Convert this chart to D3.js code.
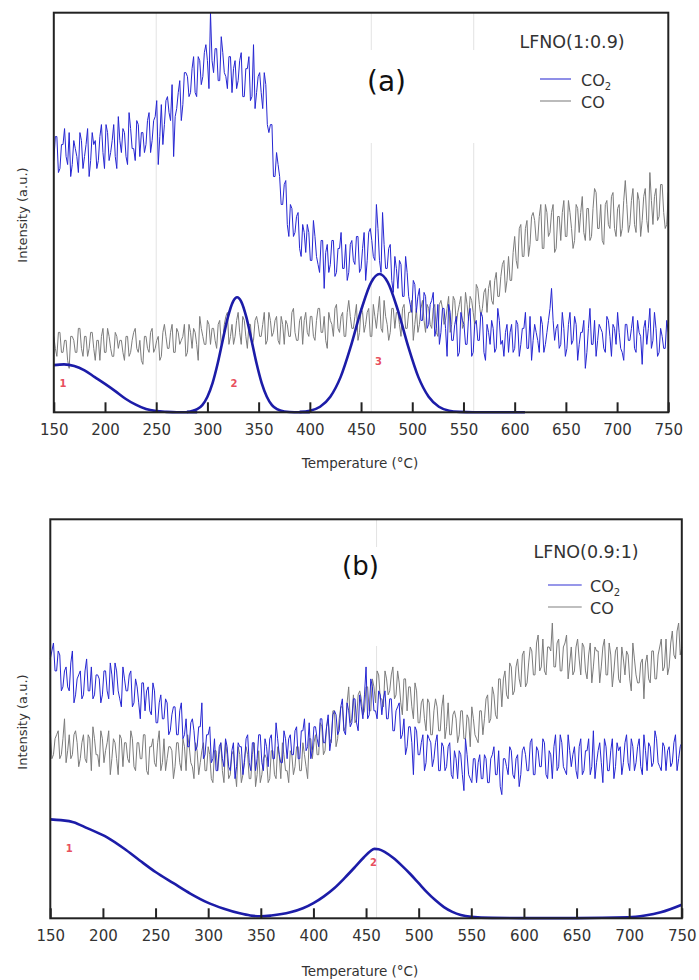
<!DOCTYPE html>
<html>
<head>
<meta charset="utf-8">
<script src="https://cdn.jsdelivr.net/npm/d3@7"></script>
<style>
  body { margin: 0; background: #fff; }
  text { font-family: "DejaVu Sans", sans-serif; }
</style>
</head>
<body>
<svg id="chart" width="699" height="980"></svg>
<script>
// x ticks (°C)
var xTicks = [150, 200, 250, 300, 350, 400, 450, 500, 550, 600, 650, 700, 750];

// panel (a) raw signals: read every 3 °C from 150 (xxA) plus the half-way readings (xxAmid)
var co2A = [63,69,61,67,64,70,62,66,60,68,64,71,63,67,61,69,65,72,63,68,64,74,65,70,62,71,66,73,64,70,67,75,68,74,
  62,77,72,79,73,64,76,83,77,85,79,86,80,89,82,90,
  88,100,85,91,83,90,84,89,80,88,83,90,79,86,78,92,80,85,
  76,82,70,72,59,62,52,57,47,52,44,49,41,47,40,45,38,44,37,43,
  31,42,37,43,35,41,36,42,35,43,37,44,36,45,38,46,39,
  52,38,50,36,41,33,39,31,37,29,35,27,33,25,31,23,29,22,28,19,27,20,26,14,25,18,24,15,23,17,24,14,22,18,25,15,22,17,21,16,23,18,20,15,22,16,
  22,17,21,16,24,18,20,15,22,17,23,31,18,22,17,21,16,25,18,22,17,20,11,21,17,23,18,21,16,24,19,22,17,20,15,22,18,21,16,23,19,21,17,26,18,21,15,19,16,20];
var co2Amid = [69,60,67,71,62,59,68,64,70,61,67,59,70,68,63,72,61,70,65,72,61,68,71,64,75,66,63,72,70,65,
  73,65,73,78,69,67,78,75,82,74,80,73,85,84,80,89,79,88,84,92,
  81,88,91,83,94,85,81,89,86,81,88,79,86,89,79,76,84,80,85,72,
  72,59,65,59,52,58,44,51,45,50,39,45,47,38,48,39,35,43,40,35,
  43,34,41,45,36,33,42,38,44,35,41,33,45,43,38,46,35,42,36,42,
  30,36,38,29,39,29,25,32,29,23,30,21,27,30,21,17,26,21,27,18,
  22,14,25,22,17,26,15,23,18,24,13,20,23,15,26,17,14,22,20,15,
  23,14,21,25,16,13,22,18,24,15,20,26,23,21,16,25,14,22,17,24,
  13,20,23,15,26,17,14,22,20,15,23,14,21,25,16,13,22,18,24,15,
  20,12,23,21,16,25,14,21,16,23];

var coA = [19,14,20,15,18,11,19,15,21,16,19,14,20,16,18,13,21,15,19,14,20,16,18,13,19,15,20,16,18,12,19,15,21,16,
  19,14,22,16,20,15,21,17,19,14,22,16,20,13,21,17,
  23,17,21,16,23,18,24,17,22,19,25,17,23,16,22,18,24,19,
  22,17,25,19,23,18,24,17,22,19,26,18,23,17,25,19,24,18,26,20,
  24,16,23,19,27,20,25,19,28,21,24,18,26,20,25,19,27,
  21,29,20,24,18,26,21,25,19,27,21,25,18,26,22,28,20,26,21,27,19,28,22,26,20,29,22,27,21,30,23,28,22,31,24,30,25,33,27,35,29,37,30,39,33,44,
  36,47,39,48,42,50,43,49,41,52,44,50,40,49,43,53,44,50,41,52,45,54,43,51,44,56,46,52,42,53,46,55,44,52,46,58,45,53,47,55,44,54,48,60,47,56,49,57,46,55];
var coAmid = [16,20,15,18,13,19,18,15,21,14,19,16,20,13,18,19,15,21,16,14,19,18,15,19,14,18,21,15,13,19,
  16,20,15,18,13,20,19,16,22,15,20,18,22,15,20,21,17,24,19,17,
  22,21,18,22,17,22,25,19,17,23,20,24,19,22,17,23,22,19,25,18,
  23,20,24,17,22,23,19,25,20,18,24,23,20,24,19,23,26,20,18,25,
  22,26,21,24,19,25,24,21,27,20,25,22,26,19,24,25,21,28,22,20,
  26,25,22,26,21,25,28,22,20,26,23,27,22,26,20,27,26,23,29,22,
  28,25,29,22,27,29,25,32,27,26,31,31,28,33,29,34,38,33,33,40,
  38,46,39,46,39,49,48,43,52,41,50,45,52,41,49,50,44,53,46,43,
  51,50,45,51,43,51,55,46,43,52,47,54,46,51,44,53,52,47,56,45,
  53,48,56,45,53,54,48,57,50,47];

// panel (b) raw signals, same sampling
var co2B = [65,69,62,66,58,63,57,67,56,61,55,62,57,63,56,61,54,62,57,64,56,62,55,63,57,61,53,60,54,59,52,58,51,57,
  49,56,50,54,47,53,46,52,45,50,43,50,42,48,54,41,
  46,39,45,37,44,38,43,37,44,38,43,36,45,39,44,37,46,39,
  45,38,46,40,45,39,47,40,46,41,48,40,47,42,49,42,48,43,50,44,
  51,45,52,46,53,47,54,48,55,49,56,50,63,51,58,52,57,
  51,57,50,55,47,53,45,50,43,48,36,47,41,46,39,45,38,44,37,44,37,43,36,42,35,41,32,41,35,40,34,41,35,40,34,41,36,42,31,40,36,42,35,41,36,43,
  37,44,36,43,38,45,36,42,35,46,38,44,37,46,38,43,35,45,37,42,36,47,39,44,34,43,37,45,38,42,36,44,39,45,37,43,38,46,37,43,39,45,38,44,37,43,39,46,40,44];
var co2Bmid = [67,62,67,57,62,58,64,54,60,62,56,65,57,55,61,60,56,62,55,61,64,57,53,60,57,62,54,58,50,59,
  57,52,59,49,54,50,55,46,51,53,46,54,46,43,49,47,43,48,40,46,
  48,40,37,43,40,45,38,42,35,44,43,39,46,37,44,40,46,37,43,45,
  40,49,41,39,45,45,41,47,40,47,50,43,40,48,45,50,44,48,42,51,
  51,47,55,46,52,49,55,47,53,56,50,60,52,50,56,55,50,55,47,52,
  54,46,41,48,44,48,41,44,37,46,44,40,46,37,43,38,44,35,40,42,
  36,45,36,34,40,39,35,41,34,40,43,36,33,40,38,43,36,40,33,42,
  41,37,45,36,42,38,44,35,41,43,37,46,38,36,42,41,37,43,36,42,
  45,38,35,42,39,45,37,42,35,44,43,39,46,37,43,39,45,36,42,44,
  38,47,39,37,43,42,38,44,37,43];

var coB = [47,41,46,40,45,39,46,41,47,38,44,40,46,37,45,41,47,39,44,36,45,40,46,38,44,39,45,37,44,40,46,36,43,39,
  44,37,45,40,43,35,44,39,45,37,43,38,44,36,42,37,
  43,35,42,37,44,34,41,36,42,33,41,36,43,35,41,33,42,36,
  41,34,42,36,43,35,41,37,42,36,43,37,44,38,45,40,46,41,48,42,
  50,44,52,45,53,47,54,49,56,50,57,51,58,52,60,54,61,
  55,62,56,61,55,62,54,60,52,58,50,57,49,55,47,54,46,55,47,53,45,54,46,52,44,52,45,51,43,50,45,52,46,55,49,58,51,60,53,62,55,63,57,65,58,67,
  59,68,61,69,62,70,61,68,74,63,70,62,69,60,68,62,70,61,68,60,69,63,67,59,68,61,69,58,67,60,68,61,66,57,65,59,64,55,66,59,67,60,68,62,70,63,72,65,74,68];
var coBmid = [40,45,47,41,50,42,40,46,44,40,46,39,45,48,41,38,45,42,47,40,44,36,45,44,40,47,38,44,40,46,
  37,43,45,38,47,39,37,43,42,38,44,37,43,46,39,35,42,39,44,37,
  41,34,42,41,37,44,35,41,37,43,34,40,41,35,44,36,34,40,40,35,
  42,35,41,44,37,34,41,38,43,37,41,35,45,44,41,49,41,48,45,52,
  43,50,53,48,58,50,49,56,55,52,58,52,58,62,55,53,60,57,63,56,
  59,51,60,58,53,59,49,54,50,55,46,52,53,47,56,48,46,51,50,46,
  52,45,50,53,46,44,52,50,56,50,56,50,60,60,56,64,56,63,60,66,
  58,64,67,61,71,63,62,68,67,63,69,62,68,71,64,61,68,65,69,62,
  66,59,68,67,63,70,61,66,62,68,59,65,67,60,69,61,59,65,64,60,
  67,60,66,70,63,61,69,66,72,66];

// fitted peaks, panel (a)
var fitA1T = [150,160,170,180,190,200,210,220,230,240,250,260,270,290];
var fitA1V = [11.8,12.0,11.6,10.5,8.8,7.1,5.3,3.4,1.9,0.8,0.3,0.1,0,0];
var fitA2T = [280,290,295,300,305,310,315,320,325,329,333,338,343,348,353,358,363,368,375,385,400];
var fitA2V = [0.1,0.8,1.8,3.9,7.3,12.2,18.1,23.8,27.7,28.8,27.7,23.8,18.1,12.2,7.3,3.9,1.8,0.8,0.2,0,0];
var fitA3T = [390,400,410,420,430,440,450,460,468,476,486,496,506,516,526,536,546,560,610];
var fitA3V = [0.1,0.4,1.4,3.9,8.8,16.5,25.5,32.6,34.6,32.6,25.5,16.5,8.8,3.9,1.4,0.4,0.1,0,0];

// fitted curve, panel (b)
var fitBT = [150,160,172,185,204,220,235,250,267,283,299,315,330,340,350,360,378,390,400,410,
  420,430,440,448,454,458,462,468,476,484,492,500,508,516,524,532,540,550,570,600,650,699,715,730,750];
var fitBV = [24.8,24.6,24.1,22.6,20.3,17.5,14.5,11.6,8.8,6.2,4.0,2.4,1.25,0.7,0.5,0.7,1.5,2.5,3.8,5.5,
  7.6,10.2,13.0,15.3,16.8,17.4,17.3,16.6,15.1,13.2,11.1,8.8,6.5,4.5,2.8,1.6,0.8,0.35,0.1,0.05,0.05,0.25,0.7,1.5,3.4];

// peak numbers
var peakLabA = ["1", "2", "3"];
var peakLabAT = [159, 326, 467];
var peakLabAV = [7.3, 7.3, 12.6];
var peakLabB = ["1", "2"];
var peakLabBT = [168, 457];
var peakLabBV = [17.6, 13.9];

// vertical guide lines
var gridA = [250, 460, 560];
var gridB = [460];

var svg = d3.select("#chart");

// put the half-way readings between the 3 °C readings
function interleave(a, b) {
    var out = [];
    a.forEach((v, i) => {
        out.push(v);
        if (i < b.length) out.push(b[i]);
    });
    return out;
}

function drawPanel(p) {
    var x = d3.scaleLinear().domain([150, 750]).range([p.left, p.right]);
    var y = d3.scaleLinear().domain([0, 100]).range([p.bottom, p.top]);
    var g = svg.append("g");

    g.selectAll(".grid")
        .data(p.grid)
        .enter()
        .append("line")
        .attr("x1", d => x(d))
        .attr("x2", d => x(d))
        .attr("y1", p.top)
        .attr("y2", p.bottom)
        .attr("stroke", "#e3e3e3")
        .attr("stroke-width", 1);

    // white box behind the labels
    g.append("rect")
        .attr("x", p.box[0]).attr("y", p.box[1])
        .attr("width", p.box[2]).attr("height", p.box[3])
        .attr("fill", "#fff");

    var raw = d3.line()
        .x((d, i, arr) => x(150 + i * 600 / (arr.length - 1)))
        .y(d => y(d));

    g.append("path")
        .datum(p.co)
        .attr("d", raw)
        .attr("fill", "none")
        .attr("stroke", "#7c7c7c")
        .attr("stroke-width", 1);

    g.append("path")
        .datum(p.co2)
        .attr("d", raw)
        .attr("fill", "none")
        .attr("stroke", "#2626d2")
        .attr("stroke-width", 1);

    var smooth = d3.line()
        .curve(d3.curveMonotoneX)
        .x(d => x(d[0]))
        .y(d => y(d[1]));

    p.fits.forEach(f => {
        g.append("path")
            .datum(f[0].map((t, i) => [t, f[1][i]]))
            .attr("d", smooth)
            .attr("fill", "none")
            .attr("stroke", "#1c1ca8")
            .attr("stroke-width", 2.6);
    });

    g.selectAll(".peaklab")
        .data(p.labels)
        .enter()
        .append("text")
        .attr("x", (d, i) => x(p.labelT[i]))
        .attr("y", (d, i) => y(p.labelV[i]))
        .attr("dy", "0.35em")
        .attr("text-anchor", "middle")
        .attr("font-size", "10px")
        .attr("font-weight", "bold")
        .attr("fill", "#e8505e")
        .text(d => d);

    // frame
    g.append("rect")
        .attr("x", p.left).attr("y", p.top)
        .attr("width", p.right - p.left)
        .attr("height", p.bottom - p.top)
        .attr("fill", "none")
        .attr("stroke", "#222")
        .attr("stroke-width", 2);

    var axis = d3.axisBottom(x)
        .tickValues(xTicks)
        .tickSizeInner(-10)
        .tickSizeOuter(0)
        .tickPadding(12);

    var ax = g.append("g")
        .attr("transform", `translate(0,${p.bottom})`)
        .call(axis);
    ax.select(".domain").remove();
    ax.selectAll("line").attr("stroke", "#222").attr("stroke-width", 2);
    ax.selectAll("text")
        .attr("font-family", "DejaVu Sans")
        .attr("font-size", "15px")
        .attr("fill", "#333");

    g.append("text")
        .attr("x", 360)
        .attr("y", p.xTitleY)
        .attr("text-anchor", "middle")
        .attr("font-size", "13.5px")
        .attr("fill", "#333")
        .text("Temperature (°C)");

    g.append("text")
        .attr("transform", `translate(27,${p.yTitleY}) rotate(-90)`)
        .attr("text-anchor", "middle")
        .attr("font-size", "13px")
        .attr("fill", "#333")
        .text("Intensity (a.u.)");

    g.append("text")
        .attr("x", p.tag[0]).attr("y", p.tag[1])
        .attr("font-size", p.tag[2] + "px")
        .attr("fill", "#111")
        .text(p.tagText);

    g.append("text")
        .attr("x", p.name[0]).attr("y", p.name[1])
        .attr("text-anchor", "middle")
        .attr("font-size", "17.5px")
        .attr("fill", "#333")
        .text(p.nameText);

    // legend
    var lg = p.legend;
    g.append("line")
        .attr("x1", lg.x1).attr("x2", lg.x2)
        .attr("y1", lg.y).attr("y2", lg.y)
        .attr("stroke", "#7474e2").attr("stroke-width", 1.6);
    g.append("line")
        .attr("x1", lg.x1).attr("x2", lg.x2)
        .attr("y1", lg.y + lg.gap).attr("y2", lg.y + lg.gap)
        .attr("stroke", "#aaa").attr("stroke-width", 1.6);

    var t1 = g.append("text")
        .attr("x", lg.tx).attr("y", lg.y + 7)
        .attr("font-size", "16px")
        .attr("fill", "#333");
    t1.append("tspan").text("CO");
    t1.append("tspan").attr("font-size", "10px").attr("dy", 4).text("2");

    g.append("text")
        .attr("x", lg.tx).attr("y", lg.y + lg.gap + 7)
        .attr("font-size", "16px")
        .attr("fill", "#333")
        .text("CO");
}

drawPanel({
    left: 53.8, right: 668.3, top: 12.7, bottom: 412.3,
    co2: interleave(co2A, co2Amid), co: interleave(coA, coAmid),
    fits: [[fitA1T, fitA1V], [fitA2T, fitA2V], [fitA3T, fitA3V]],
    labels: peakLabA, labelT: peakLabAT, labelV: peakLabAV,
    grid: gridA,
    box: [362, 50, 290, 93],
    xTitleY: 468, yTitleY: 215,
    tag: [367, 90.5, 28], tagText: "(a)",
    name: [572, 48.3], nameText: "LFNO(1:0.9)",
    legend: {x1: 540, x2: 571, y: 79, gap: 22, tx: 581}
});

drawPanel({
    left: 50.3, right: 681.8, top: 519.3, bottom: 918.3,
    co2: interleave(co2B, co2Bmid), co: interleave(coB, coBmid),
    fits: [[fitBT, fitBV]],
    labels: peakLabB, labelT: peakLabBT, labelV: peakLabBV,
    grid: gridB,
    box: [330, 547, 330, 99],
    xTitleY: 975.5, yTitleY: 722,
    tag: [342, 575, 26], tagText: "(b)",
    name: [586, 558.3], nameText: "LFNO(0.9:1)",
    legend: {x1: 548, x2: 581.7, y: 585, gap: 22, tx: 590}
});
</script>
</body>
</html>
